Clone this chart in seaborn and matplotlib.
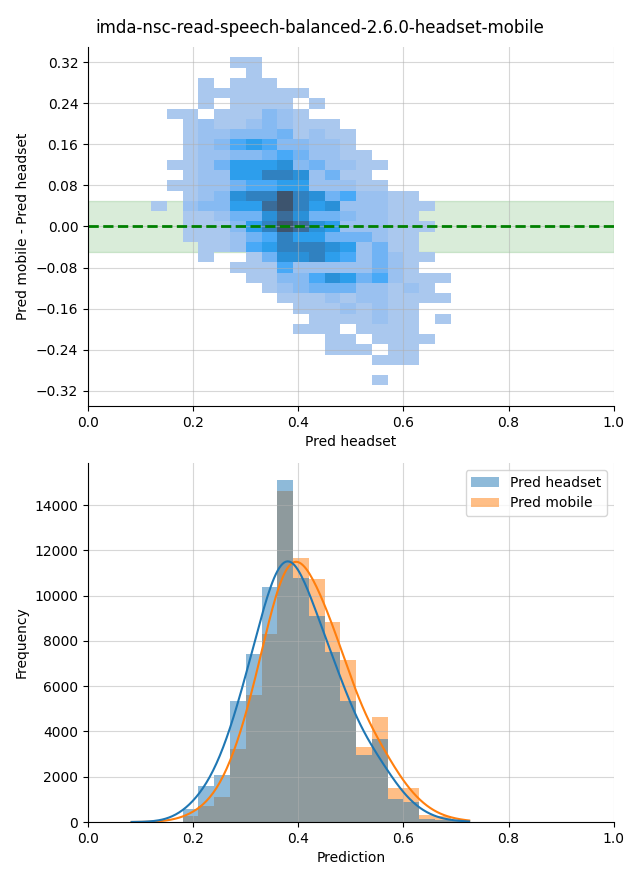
import matplotlib
matplotlib.use("Agg")
import matplotlib.pyplot as plt
from matplotlib.ticker import MultipleLocator
import seaborn as sns
import numpy as np
import pandas as pd

title = "imda-nsc-read-speech-balanced-2.6.0-headset-mobile"

# top panel: 2D histogram cells
# columns = Pred headset bin centres, rows = difference bin centres (top to bottom)
head_centres = [0.135, 0.165, 0.195, 0.225, 0.255, 0.285, 0.315, 0.345, 0.375, 0.405,
                0.435, 0.465, 0.495, 0.525, 0.555, 0.585, 0.615, 0.645, 0.675]
diff_centres = [0.32, 0.30, 0.28, 0.26, 0.24, 0.22, 0.20, 0.18, 0.16, 0.14, 0.12, 0.10,
                0.08, 0.06, 0.04, 0.02, 0.00, -0.02, -0.04, -0.06, -0.08, -0.10, -0.12,
                -0.14, -0.16, -0.18, -0.20, -0.22, -0.24, -0.26, -0.28, -0.30]
# shade level of each cell (0 = empty, 1 = lightest ... 10 = darkest)
cell_levels = [
    [0, 0, 0, 0, 0, 1, 1, 0, 0, 0, 0, 0, 0, 0, 0, 0, 0, 0, 0],
    [0, 0, 0, 0, 0, 0, 1, 0, 0, 0, 0, 0, 0, 0, 0, 0, 0, 0, 0],
    [0, 0, 0, 1, 0, 1, 1, 1, 0, 0, 0, 0, 0, 0, 0, 0, 0, 0, 0],
    [0, 0, 0, 1, 1, 1, 1, 1, 1, 1, 0, 0, 0, 0, 0, 0, 0, 0, 0],
    [0, 0, 0, 1, 0, 1, 1, 1, 1, 0, 1, 0, 0, 0, 0, 0, 0, 0, 0],
    [0, 1, 1, 0, 1, 1, 1, 3, 2, 1, 0, 0, 0, 0, 0, 0, 0, 0, 0],
    [0, 0, 1, 2, 1, 1, 2, 3, 2, 1, 1, 1, 0, 0, 0, 0, 0, 0, 0],
    [0, 0, 1, 2, 2, 3, 3, 3, 4, 1, 2, 1, 1, 0, 0, 0, 0, 0, 0],
    [0, 0, 1, 2, 3, 5, 6, 5, 3, 3, 2, 2, 1, 0, 0, 0, 0, 0, 0],
    [0, 0, 1, 2, 2, 3, 3, 4, 5, 4, 2, 2, 1, 1, 0, 0, 0, 0, 0],
    [0, 1, 1, 2, 4, 6, 6, 6, 7, 3, 4, 2, 2, 1, 1, 0, 0, 0, 0],
    [0, 0, 1, 2, 2, 6, 6, 8, 8, 7, 2, 4, 1, 1, 0, 0, 0, 0, 0],
    [0, 1, 1, 2, 2, 4, 5, 5, 6, 6, 2, 2, 2, 1, 1, 0, 0, 0, 0],
    [0, 0, 1, 2, 3, 7, 8, 8, 10, 8, 7, 4, 5, 2, 2, 1, 1, 0, 0],
    [1, 0, 2, 3, 3, 6, 6, 9, 10, 8, 6, 7, 2, 2, 2, 1, 1, 1, 0],
    [0, 0, 1, 1, 2, 4, 4, 7, 9, 7, 4, 4, 3, 2, 2, 1, 1, 0, 0],
    [0, 0, 1, 1, 1, 3, 6, 8, 10, 9, 7, 6, 2, 2, 2, 1, 1, 1, 0],
    [0, 0, 1, 1, 1, 2, 4, 5, 8, 6, 6, 4, 4, 4, 2, 1, 1, 0, 0],
    [0, 0, 0, 1, 1, 2, 5, 6, 8, 8, 8, 7, 6, 2, 4, 1, 1, 0, 0],
    [0, 0, 0, 1, 0, 0, 1, 4, 7, 7, 8, 6, 5, 2, 4, 2, 1, 1, 0],
    [0, 0, 0, 0, 0, 1, 1, 1, 5, 2, 2, 2, 2, 2, 4, 2, 1, 0, 0],
    [0, 0, 0, 0, 0, 0, 1, 1, 3, 3, 5, 7, 6, 4, 5, 2, 1, 1, 1],
    [0, 0, 0, 0, 0, 0, 0, 1, 2, 3, 4, 4, 4, 2, 2, 1, 2, 1, 0],
    [0, 0, 0, 0, 0, 0, 0, 0, 1, 1, 1, 2, 1, 2, 2, 1, 1, 1, 1],
    [0, 0, 0, 0, 0, 0, 0, 0, 0, 1, 1, 1, 2, 1, 2, 1, 1, 0, 0],
    [0, 0, 0, 0, 0, 0, 0, 0, 0, 0, 1, 1, 1, 1, 2, 1, 1, 0, 1],
    [0, 0, 0, 0, 0, 0, 0, 0, 0, 1, 1, 1, 0, 1, 1, 1, 1, 0, 0],
    [0, 0, 0, 0, 0, 0, 0, 0, 0, 0, 0, 1, 1, 0, 1, 1, 1, 1, 0],
    [0, 0, 0, 0, 0, 0, 0, 0, 0, 0, 0, 1, 1, 1, 0, 1, 1, 0, 0],
    [0, 0, 0, 0, 0, 0, 0, 0, 0, 0, 0, 0, 0, 0, 1, 1, 1, 0, 0],
    [0, 0, 0, 0, 0, 0, 0, 0, 0, 0, 0, 0, 0, 0, 0, 0, 0, 0, 0],
    [0, 0, 0, 0, 0, 0, 0, 0, 0, 0, 0, 0, 0, 0, 1, 0, 0, 0, 0],
]
# approximate count behind each shade level
level_counts = [0, 1, 7, 14, 20, 29, 39, 50, 62, 80, 100]

# bottom panel: histogram bin centres and counts per series
pred_centres = [0.195, 0.225, 0.255, 0.285, 0.315, 0.345, 0.375, 0.405, 0.435,
                0.465, 0.495, 0.525, 0.555, 0.585, 0.615, 0.645, 0.675, 0.705]
headset_counts = [560, 1580, 2070, 5360, 7440, 10400, 15100, 10770, 9080,
                  7530, 5360, 2950, 3680, 1030, 890, 150, 70, 30]
mobile_counts = [250, 690, 1110, 3230, 5610, 8320, 14600, 11670, 10750,
                 8850, 7160, 3320, 4640, 1490, 1490, 300, 250, 70]
series_names = ["Pred headset", "Pred mobile"]

# build tables
rows = []
for yc, levels in zip(diff_centres, cell_levels):
    for xc, lv in zip(head_centres, levels):
        if lv > 0:
            rows.append((xc, yc, level_counts[lv]))
df2d = pd.DataFrame(rows, columns=["Pred headset", "Pred mobile - Pred headset", "count"])

df1d = pd.concat([
    pd.DataFrame({"Prediction": pred_centres, "weight": headset_counts, "series": series_names[0]}),
    pd.DataFrame({"Prediction": pred_centres, "weight": mobile_counts, "series": series_names[1]}),
], ignore_index=True)

x_edges = [round(v, 4) for v in np.arange(0, 1.0001, 0.03)]
y_edges = [round(v, 4) for v in np.arange(-0.35, 0.3601, 0.02)]

fig, (ax1, ax2) = plt.subplots(2, 1, figsize=(6.4, 8.8), dpi=100)
fig.subplots_adjust(left=0.1375, right=0.959, top=0.9466, bottom=0.0659, hspace=0.159)

# 2D histogram
sns.histplot(data=df2d, x="Pred headset", y="Pred mobile - Pred headset", weights="count",
             bins=(x_edges, y_edges), ax=ax1)
ax1.axhspan(-0.05, 0.05, color="green", alpha=0.15, zorder=0)
ax1.axhline(0, color="green", linestyle="--", linewidth=2)
ax1.set_xlim(0, 1)
ax1.set_ylim(-0.35, 0.35)
ax1.yaxis.set_major_locator(MultipleLocator(0.08))
ax1.grid(True, alpha=0.5)

# histograms with kde
sns.histplot(data=df1d, x="Prediction", weights="weight", hue="series", hue_order=series_names,
             bins=x_edges, kde=True, linewidth=0,
             kde_kws=dict(bw_adjust=0.65, cut=3, clip=(0.083, 0.725)), ax=ax2)
ax2.set_xlim(0, 1)
ax2.set_ylabel("Frequency")
ax2.grid(True, alpha=0.5)
sns.move_legend(ax2, "upper right", title=None)

sns.despine(fig)
fig.suptitle(title, fontsize=12, y=0.978)

plt.savefig("out.png", dpi=100)
